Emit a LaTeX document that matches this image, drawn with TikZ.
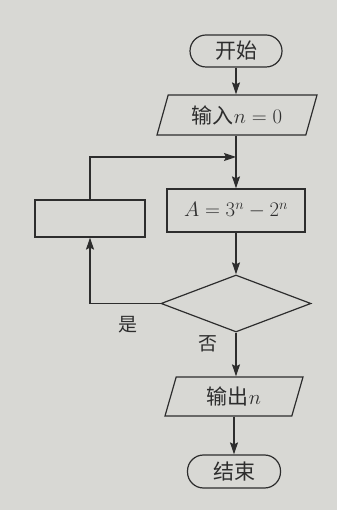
\documentclass[tikz,border=0pt]{standalone}
\usepackage{fontspec}
\newfontfamily\cjk{Noto Sans CJK SC}
\usetikzlibrary{shapes.geometric,arrows.meta}
\definecolor{paper}{RGB}{216,216,212}
\definecolor{ink}{RGB}{45,45,45}
\begin{document}
\begin{tikzpicture}[x=1pt,y=1pt,
  every node/.style={text=ink},
  line/.style={draw=ink,line width=1.2pt},
  arr/.style={line,-{Stealth[length=12pt,width=8pt,inset=2pt]}},
  term/.style={line,rounded corners=16pt,minimum width=92pt,minimum height=32pt,inner sep=0pt,font=\cjk\fontsize{21}{23}\selectfont},
  io/.style={line,trapezium,trapezium left angle=60,trapezium right angle=120,trapezium stretches body,inner sep=0pt,font=\cjk\fontsize{21}{23}\selectfont},
  proc/.style={line,rectangle,inner sep=0pt,font=\fontsize{21}{23}\selectfont},
  dec/.style={line,diamond,inner sep=0pt},
  lab/.style={font=\cjk\fontsize{19}{21}\selectfont}
]
\fill[paper] (0,0) rectangle (337,510);
\useasboundingbox (0,0) rectangle (337,510);
\node[term] (start) at (236,459) {开始};
\node[io,minimum width=160pt,minimum height=40pt] (input) at (237,395) {输入$n=0$};
\node[proc,minimum width=138pt,minimum height=43pt] (calc) at (236,299.5) {$A=3^n-2^n$};
\node[proc,minimum width=110pt,minimum height=37pt] (blank) at (90,291.5) {};
\node[dec,minimum width=150pt,minimum height=57pt] (cond) at (236,206.5) {};
\node[io,minimum width=138pt,minimum height=39pt] (output) at (234,113.5) {输出$n$};
\node[term,minimum width=93pt,minimum height=33pt] (stop) at (234,38.5) {结束};
\coordinate (join) at (calc.north |- 0,353);
\node[lab] (yes) at (128,185) {是};
\node[lab] (no) at (208,166) {否};
\draw[arr] (start.south) -- (start.south |- input.north);
\draw[arr] (input.south -| calc.north) -- (calc.north);
\draw[arr] (calc.south) -- (calc.south |- cond.north);
\draw[arr] (cond.west) -| (blank.south);
\draw[arr] (blank.north) |- (join);
\draw[arr] (cond.south) -- (cond.south |- output.north);
\draw[arr] (output.south -| stop.north) -- (stop.north);
\end{tikzpicture}
\end{document}
